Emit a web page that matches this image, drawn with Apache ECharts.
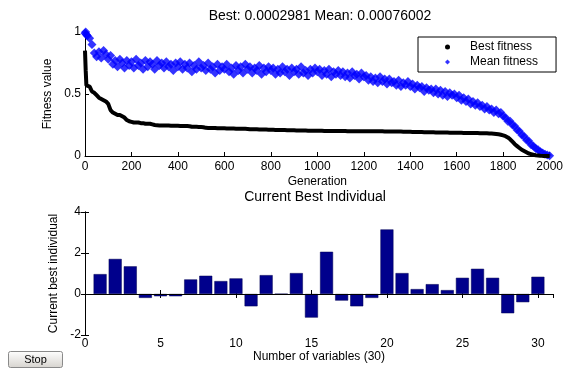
<!DOCTYPE html>
<html><head><meta charset="utf-8">
<script src="https://cdn.jsdelivr.net/npm/echarts@6/dist/echarts.min.js"></script>
<style>html,body{margin:0;padding:0;background:#fff}#c{width:566px;height:368px}</style>
</head><body><div id="c"></div>
<script>
const generations = [0,3,6,
10,20,30,40,50,60,70,80,90,100,110,120,130,140,150,160,170,180,190,200,210,220,230,240,250,260,270,280,290,300,
310,320,330,340,350,360,370,380,390,400,410,420,430,440,450,
460,470,480,490,500,510,
520,530,540,550,560,570,580,590,600,
610,620,630,640,650,660,670,680,690,700,
710,720,730,740,750,760,770,780,790,800,
810,820,830,840,850,860,870,880,890,900,
910,920,930,940,950,960,970,980,990,1000,
1010,1020,1030,1040,1050,1060,1070,1080,1090,1100,
1110,1120,1130,1140,1150,1160,1170,1180,1190,1200,
1210,1220,1230,1240,1250,1260,1270,1280,1290,1300,
1310,1320,1330,1340,1350,1360,1370,1380,1390,1400,
1410,1420,1430,1440,1450,1460,1470,1480,1490,1500,
1510,1520,1530,1540,1550,1560,1570,1580,1590,1600,
1610,1620,1630,1640,1650,1660,1670,1680,1690,1700,
1710,1720,1730,1740,1750,1760,1770,1780,1790,1800,
1810,1820,1830,1840,1850,1860,1870,1880,1890,1900,
1910,1920,1930,1940,1950,1960,1970,1980,1990,2000];

const bestFitness = [0.85,0.69,0.57,
0.57,0.56,0.52,0.51,0.49,0.47,0.46,0.45,0.44,0.42,0.37,0.35,0.34,0.33,0.33,0.32,0.31,0.29,0.28,0.275,0.27,0.27,0.27,0.265,0.265,0.26,0.26,0.26,0.255,0.25,
0.247,0.246,0.246,0.245,0.245,0.245,0.244,0.244,0.243,0.243,0.242,0.242,0.241,0.241,0.24,
0.236,0.235,0.235,0.234,0.233,0.232,
0.227,0.226,0.226,0.225,0.225,0.224,0.224,0.224,0.223,
0.222,0.222,0.221,0.221,0.22,0.22,0.22,0.219,0.219,0.218,
0.216,0.216,0.215,0.215,0.214,0.214,0.213,0.213,0.212,0.212,
0.211,0.21,0.21,0.21,0.209,0.209,0.208,0.208,0.207,0.207,
0.206,0.206,0.205,0.205,0.205,0.204,0.204,0.204,0.203,0.203,
0.203,0.203,0.202,0.202,0.202,0.202,0.202,0.201,0.201,0.201,
0.201,0.201,0.2,0.2,0.2,0.2,0.2,0.2,0.2,0.2,
0.2,0.2,0.2,0.199,0.199,0.199,0.199,0.199,0.198,0.198,
0.198,0.198,0.198,0.197,0.197,0.197,0.196,0.196,0.195,0.195,
0.194,0.194,0.193,0.193,0.193,0.192,0.192,0.192,0.191,0.191,
0.19,0.19,0.19,0.189,0.189,0.189,0.188,0.188,0.188,0.187,
0.187,0.187,0.186,0.186,0.186,0.185,0.185,0.185,0.185,0.184,
0.184,0.183,0.183,0.182,0.181,0.18,0.178,0.175,0.171,0.166,
0.16,0.15,0.135,0.115,0.095,0.08,0.065,0.05,0.04,0.03,
0.02,0.015,0.01,0.006,0.004,0.002,0.001,0.0005,0.0003,0.0003];

const meanFitness = [0.99,1.0,0.98,
0.97,0.95,0.90,0.83,0.80,0.84,0.79,0.85,0.82,0.78,
0.81,0.74,0.77,0.72,0.78,0.75,0.71,0.77,0.73,0.76,
0.71,0.78,0.73,0.75,0.70,0.77,0.72,0.76,0.74,0.70,
0.77,0.73,0.75,0.71,0.76,0.72,0.74,0.69,0.75,0.72,
0.76,0.70,0.74,0.71,0.75,0.68,0.73,0.70,0.76,0.71,
0.73,0.69,0.75,0.70,0.72,0.67,0.74,0.69,0.72,0.70,
0.74,0.68,0.71,0.66,0.73,0.69,0.72,0.67,0.74,0.70,
0.72,0.67,0.71,0.69,0.73,0.66,0.71,0.68,0.72,0.69,
0.71,0.66,0.70,0.67,0.72,0.68,0.70,0.65,0.71,0.68,
0.70,0.66,0.72,0.67,0.69,0.65,0.70,0.67,0.71,0.68,
0.70,0.65,0.69,0.66,0.70,0.64,0.68,0.66,0.69,0.65,
0.68,0.64,0.67,0.63,0.68,0.65,0.66,0.62,0.67,0.64,
0.65,0.61,0.64,0.60,0.63,0.59,0.64,0.60,0.62,0.58,
0.62,0.59,0.60,0.57,0.61,0.56,0.59,0.57,0.60,0.56,
0.58,0.54,0.57,0.55,0.56,0.52,0.55,0.53,0.54,0.51,
0.54,0.50,0.53,0.49,0.52,0.48,0.51,0.49,0.50,0.47,
0.49,0.45,0.47,0.44,0.46,0.42,0.44,0.41,0.43,0.40,
0.41,0.38,0.40,0.37,0.38,0.35,0.37,0.34,0.35,0.32,
0.31,0.28,0.28,0.25,0.24,0.21,0.20,0.17,0.16,0.13,
0.12,0.09,0.08,0.06,0.05,0.035,0.025,0.015,0.008,0.003];

const variableIndex = [1,2,3,4,5,6,7,8,9,10,11,12,13,14,15,16,17,18,19,20,21,22,23,24,25,26,27,28,29,30];
const bestIndividual = [0.97,1.71,1.35,-0.19,-0.11,-0.11,0.71,0.89,0.63,0.76,-0.6,0.92,0,1.02,-1.15,2.06,-0.32,-0.6,-0.19,3.15,1.02,0.24,0.48,0.19,0.79,1.23,0.79,-0.94,-0.4,0.84];

const topTitle = 'Best: 0.0002981 Mean: 0.00076002';
const bottomTitle = 'Current Best Individual';
const seriesNames = ['Best fitness', 'Mean fitness'];

const FONT = '"Liberation Sans", Arial, sans-serif';
const axisText = {color:'#000', fontFamily:FONT, fontSize:12};
const axLine = {show:true, lineStyle:{color:'#000', width:1}};
const tickIn = {show:true, inside:true, length:4, lineStyle:{color:'#000'}};
const plain = v => String(v);

const chart = echarts.init(document.getElementById('c'), null, {renderer:'canvas'});
chart.setOption({
  animation:false,
  backgroundColor:'#fff',
  textStyle:{fontFamily:FONT},
  title:[
    {text:topTitle, left:320, top:9, textAlign:'center', textStyle:{fontSize:14, fontWeight:'normal', color:'#000', fontFamily:FONT}, padding:0},
    {text:bottomTitle, left:315, top:190, textAlign:'center', textStyle:{fontSize:14, fontWeight:'normal', color:'#000', fontFamily:FONT}, padding:0}
  ],
  legend:{
    data:[{name:seriesNames[0], icon:'circle'}, {name:seriesNames[1], icon:'diamond'}],
    orient:'vertical', left:418, top:37,
    padding:[4,18,4,27], itemGap:3, itemWidth:5, itemHeight:5,
    borderColor:'#000', borderWidth:1, backgroundColor:'#fff',
    textStyle:{color:'#000', fontSize:12, fontFamily:FONT, padding:[0,0,0,15]}
  },
  grid:[
    {left:85, right:13, top:32, height:124},
    {left:85, right:13, top:212, height:123}
  ],
  xAxis:[
    {gridIndex:0, type:'value', min:0, max:2000, interval:200, name:'Generation', nameLocation:'middle', nameGap:20, nameTextStyle:axisText,
     axisLine:axLine, axisTick:tickIn, splitLine:{show:false}, axisLabel:Object.assign({margin:5, formatter:plain}, axisText)},
    {gridIndex:1, type:'value', min:0, max:31, interval:5, name:'Number of variables (30)', nameLocation:'middle', nameGap:14, nameTextStyle:axisText,
     axisLine:axLine, axisTick:tickIn, splitLine:{show:false}, axisLabel:Object.assign({margin:3, showMaxLabel:false, formatter:plain}, axisText)},
    {gridIndex:1, type:'value', min:0, max:31, interval:5, position:'top',
     axisLine:axLine, axisTick:tickIn, splitLine:{show:false}, axisLabel:{show:false}}
  ],
  yAxis:[
    {gridIndex:0, type:'value', min:0, max:1, interval:0.5, name:'Fitness value', nameLocation:'middle', nameGap:30, nameTextStyle:axisText,
     axisLine:axLine, axisTick:tickIn, splitLine:{show:false}, axisLabel:Object.assign({margin:4, formatter:plain}, axisText)},
    {gridIndex:1, type:'value', min:-2, max:4, interval:2, name:'Current best individual', nameLocation:'middle', nameGap:22, nameTextStyle:axisText,
     axisLine:axLine, axisTick:tickIn, splitLine:{show:false}, axisLabel:Object.assign({margin:4, formatter:plain}, axisText)},
    {gridIndex:1, type:'value', min:-2, max:4, interval:2, position:'right',
     axisLine:axLine, axisTick:tickIn, splitLine:{show:false}, axisLabel:{show:false}}
  ],
  series:[
    {name:seriesNames[0], type:'line', xAxisIndex:0, yAxisIndex:0, showSymbol:false, clip:false,
     lineStyle:{color:'#000', width:4}, itemStyle:{color:'#000'}, data:generations.map((g,i)=>[g,bestFitness[i]])},
    {name:seriesNames[1], type:'scatter', xAxisIndex:0, yAxisIndex:0, symbol:'diamond', symbolSize:9, clip:false,
     itemStyle:{color:'#0000ff'}, data:generations.map((g,i)=>[g,meanFitness[i]])},
    {type:'bar', xAxisIndex:1, yAxisIndex:1, barWidth:13,
     itemStyle:{color:'#00008c', borderColor:'#000050', borderWidth:0.5},
     data:variableIndex.map((v,i)=>[v,bestIndividual[i]]),
     markLine:{silent:true, symbol:'none', label:{show:false}, lineStyle:{color:'#000', width:1, type:'solid'}, data:[{yAxis:0}]}}
  ],
  graphic:[
    {type:'group', left:8, top:351, children:[
      {type:'rect', shape:{x:0,y:0,width:54,height:16,r:2},
       style:{fill:new echarts.graphic.LinearGradient(0,0,0,1,[{offset:0,color:'#ffffff'},{offset:1,color:'#d6d3ce'}]), stroke:'#8a8a8a', lineWidth:1}},
      {type:'text', x:27, y:8, style:{text:'Stop', fill:'#000', font:'11px '+FONT, textAlign:'center', textVerticalAlign:'middle'}}
    ]}
  ]
});
</script></body></html>
